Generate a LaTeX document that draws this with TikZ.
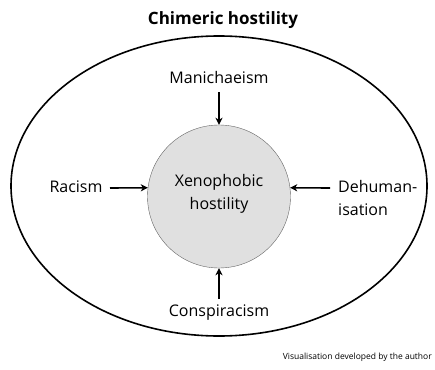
\documentclass[tikz,border=0pt]{standalone}
\usepackage{fontspec}
\setmainfont{Open Sans}
\usepackage{xcolor}
\usetikzlibrary{arrows.meta}

\begin{document}
\begin{tikzpicture}[
            x=1pt, y=-1pt,
            lbl/.style={font=\fontsize{16}{23}\selectfont, align=center, inner sep=0pt},
            push/.style={-{Stealth[length=7pt, width=7pt, inset=2pt]}, line width=1.6pt}
            ]
            \useasboundingbox (0,0) rectangle (435,369);

            % Frame and core
            \draw[line width=1.6pt] (219,186) ellipse [x radius=208, y radius=150];
            \node[circle, draw=black!60, fill=black!12, minimum size=143pt, inner sep=0pt] (xeno) at (219,196.5) {};
            \node[lbl] (xenotxt) at (219,194) {Xenophobic\\hostility};

            % Titles
            \node[font=\fontsize{17}{20}\selectfont\bfseries, inner sep=0pt] (title) at (223,20) {Chimeric hostility};
            \node[font=\fontsize{8.5}{10}\selectfont, anchor=east, inner sep=0pt] (credit) at (432,357) {Visualisation developed by the author};

            % Nodes with manual coordinates
            \node[lbl] (mani) at (219,77) {Manichaeism};
            \node[lbl] (rac) at (76,187) {Racism};
            \node[lbl, anchor=west, align=left] (dehum) at (338,198) {Dehuman-\\isation};
            \node[lbl] (consp) at (219,313) {Conspiracism};

            % Arrows
            \draw[push] (219,92) -- (xeno.north);
            \draw[push] (110,188) -- (xeno.173);
            \draw[push] (330,188) -- (xeno.7);
            \draw[push] (219,299) -- (xeno.south);
        \end{tikzpicture}
\end{document}
